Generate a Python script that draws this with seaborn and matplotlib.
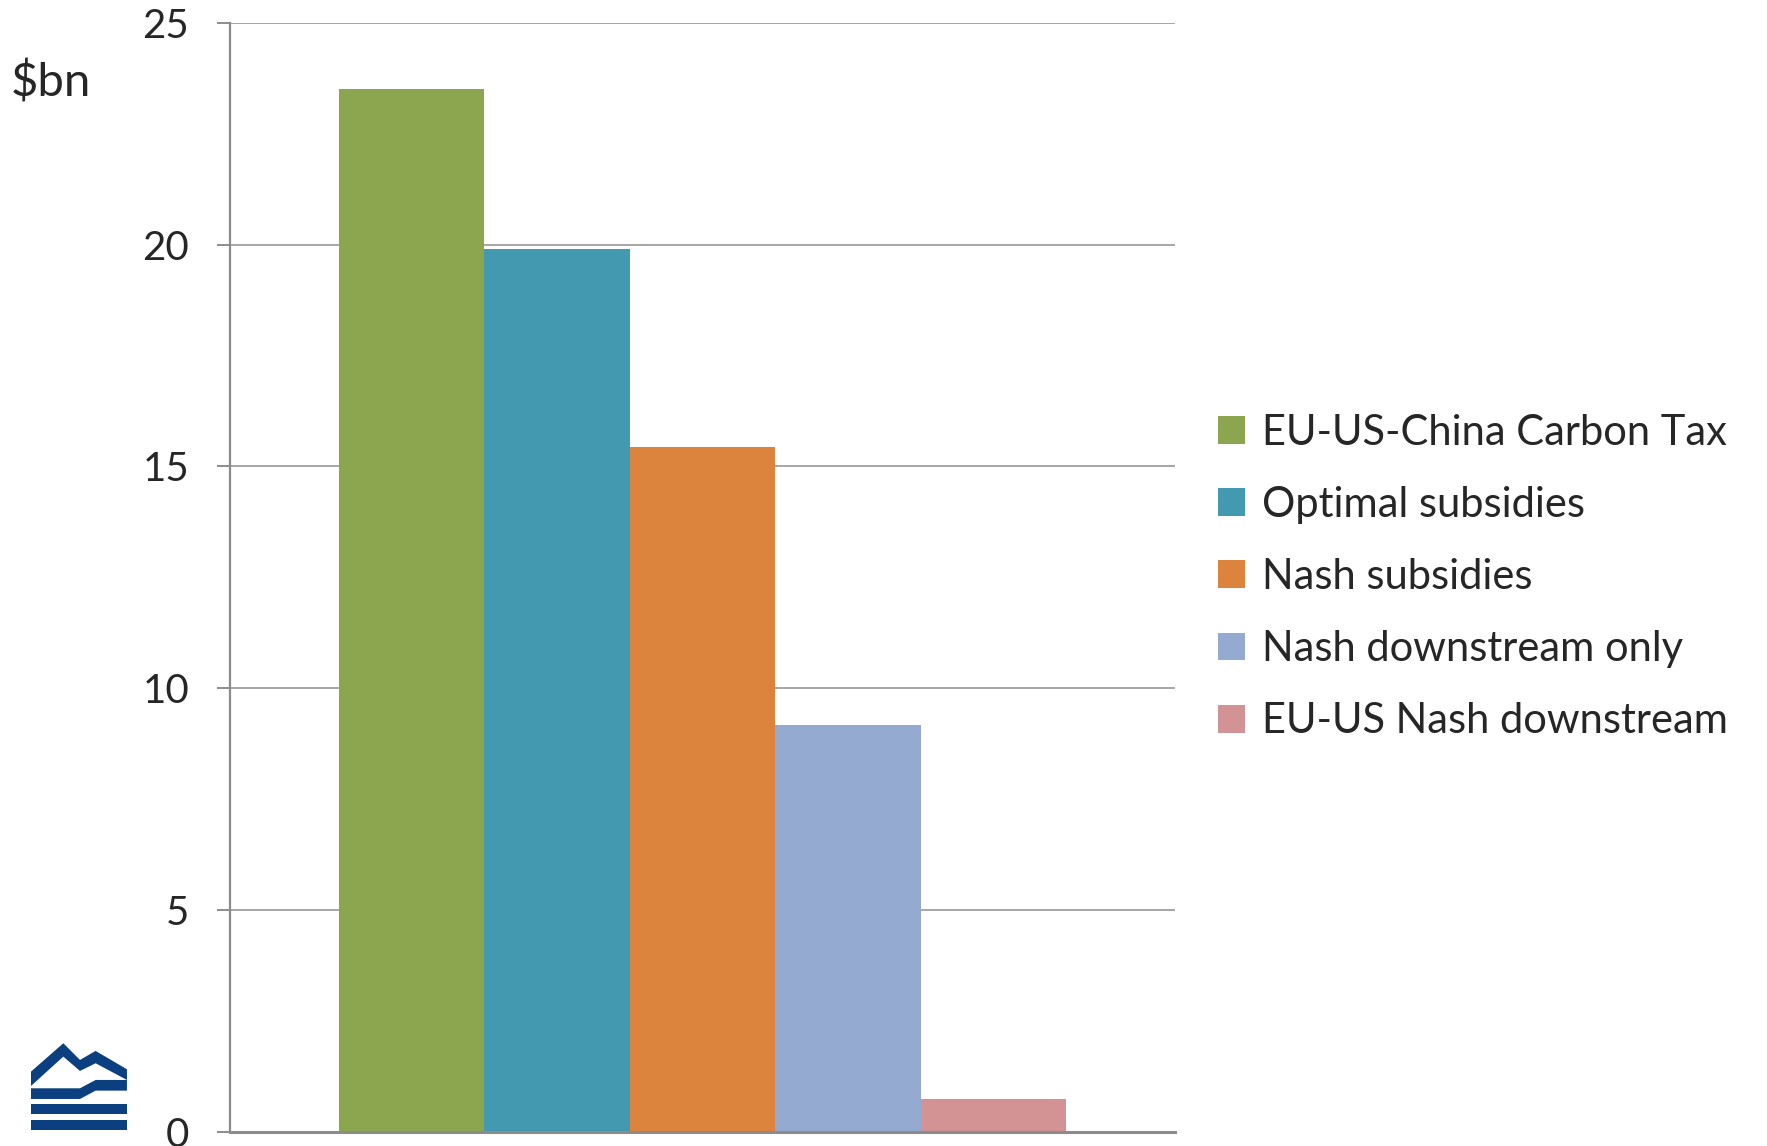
import matplotlib
matplotlib.use("Agg")
import matplotlib.pyplot as plt
from matplotlib.patches import Polygon
import seaborn as sns
import pandas as pd

# values in $bn
scenarios = ["EU-US-China Carbon Tax", "Optimal subsidies", "Nash subsidies",
             "Nash downstream only", "EU-US Nash downstream"]
values = [23.5, 19.9, 15.43, 9.18, 0.74]
colors = ["#8BA64E", "#4399B0", "#DC833D", "#95AAD0", "#D39293"]
y_ticks = [0, 5, 10, 15, 20, 25]

sns.set_style("white")
plt.rcParams['font.family'] = ['Lato', 'DejaVu Sans']

df = pd.DataFrame({"group": [""] * len(scenarios), "scenario": scenarios, "value": values})

fig = plt.figure(figsize=(17.67, 11.46), dpi=100)
ax = fig.add_axes([0.1302, 0.0122, 0.665 - 0.1302, 0.9802 - 0.0122])

sns.barplot(data=df, x="group", y="value", hue="scenario", hue_order=scenarios,
            palette=colors, width=0.77, gap=0, saturation=1, linewidth=0,
            ax=ax, legend=True)

ax.set_ylim(0, 25)
ax.set_xlim(-0.5, 0.5)
ax.set_yticks(y_ticks)
ax.set_yticklabels([str(t) for t in y_ticks])
ax.yaxis.grid(True, color="#A6A6A6", linewidth=1.4)
ax.set_axisbelow(True)
ax.set_xticks([])
ax.set_xlabel("")
ax.set_ylabel("")
for s in ["top", "right"]:
    ax.spines[s].set_visible(False)
ax.spines["left"].set_color("#8C8C8C")
ax.spines["left"].set_linewidth(1.6)
ax.spines["bottom"].set_color("#8C8C8C")
ax.spines["bottom"].set_linewidth(2.2)
ax.tick_params(axis="y", direction="out", length=9.5, width=1.4, color="#8C8C8C",
               pad=20, labelsize=29, left=True)

fig.text(0.0062, 0.928, "$bn", fontsize=34, ha="left", va="center")

leg = ax.legend(loc="center left", bbox_to_anchor=(0.6895, 0.4965),
                bbox_transform=fig.transFigure, frameon=False, fontsize=30,
                handlelength=0.65, handleheight=0.65, handletextpad=0.4,
                labelspacing=0.82, borderaxespad=0, borderpad=0)

# logo, bottom left
lax = fig.add_axes([0.01754, 0.01396, 0.0543, 0.0757])
lax.set_xlim(93, 381)
lax.set_ylim(390, 130)
lax.axis("off")
blue = "#0C3F80"
shapes = [
    [(93, 215), (190, 130), (240, 180), (287, 153), (381, 208), (381, 240),
     (287, 190), (240, 213), (190, 170), (93, 258)],
    [(93, 265), (240, 265), (287, 240), (381, 240), (381, 272), (287, 272),
     (240, 297), (93, 297)],
    [(93, 313), (381, 313), (381, 343), (93, 343)],
    [(93, 360), (381, 360), (381, 390), (93, 390)],
]
for pts in shapes:
    lax.add_patch(Polygon(pts, closed=True, facecolor=blue, edgecolor="none"))

fig.savefig("out.png", dpi=100)
